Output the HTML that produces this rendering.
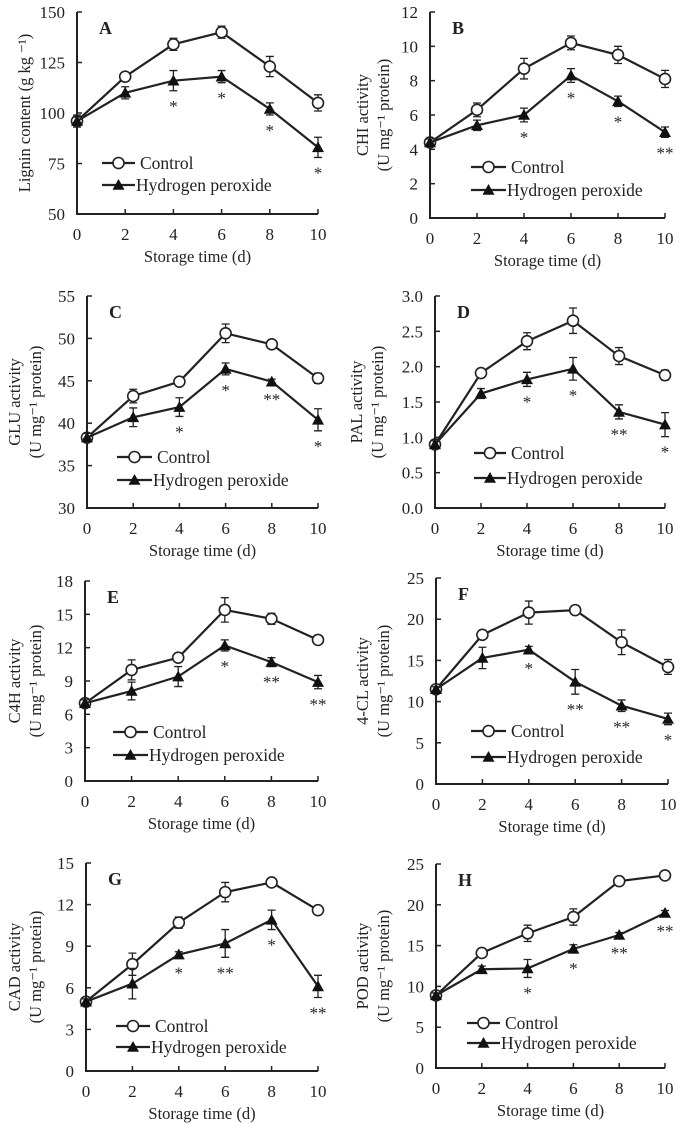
<!DOCTYPE html>
<html><head><meta charset="utf-8"><style>
html,body{margin:0;padding:0;background:#fff;}
svg{display:block;font-family:"Liberation Serif",serif;}
</style></head><body>
<svg id="fig" width="686" height="1123" viewBox="0 0 686 1123"></svg>
<script>
const days=[0,2,4,6,8,10];
const xTicks=[0,2,4,6,8,10];
// Panel A Lignin
const ctrlA=[96,118,134,140,123,105], ctrlErrA=[3,2,3,3,5,4];
const hpA=[96,110,116,118,102,83], hpErrA=[2,3,5,3,3,5];
const starsA=["","","*","*","*","*"];
const yTicksA=[50,75,100,125,150];
// Panel B CHI
const ctrlB=[4.4,6.3,8.7,10.2,9.5,8.1], ctrlErrB=[0.2,0.4,0.6,0.4,0.5,0.5];
const hpB=[4.4,5.4,6.0,8.3,6.8,5.0], hpErrB=[0.2,0.3,0.4,0.4,0.3,0.3];
const starsB=["","","*","*","*","**"];
const yTicksB=[0,2,4,6,8,10,12];
// Panel C GLU
const ctrlC=[38.3,43.2,44.9,50.6,49.3,45.3], ctrlErrC=[0.5,0.8,0.3,1.1,0.4,0.6];
const hpC=[38.3,40.7,41.9,46.4,44.9,40.4], hpErrC=[0.5,1.1,1.1,0.7,0.3,1.3];
const starsC=["","","*","*","**","*"];
const yTicksC=[30,35,40,45,50,55];
// Panel D PAL
const ctrlD=[0.9,1.91,2.36,2.65,2.15,1.88], ctrlErrD=[0.05,0.05,0.12,0.18,0.12,0.07];
const hpD=[0.9,1.62,1.82,1.97,1.36,1.18], hpErrD=[0.05,0.07,0.1,0.16,0.1,0.17];
const starsD=["","","*","*","**","*"];
const yTicksD=[0,0.5,1,1.5,2,2.5,3];
// Panel E C4H
const ctrlE=[7.0,10.0,11.1,15.4,14.6,12.7], ctrlErrE=[0.3,0.9,0.2,1.1,0.5,0.2];
const hpE=[7.0,8.1,9.4,12.2,10.7,8.9], hpErrE=[0.3,0.8,0.9,0.5,0.4,0.6];
const starsE=["","","","*","**","**"];
const yTicksE=[0,3,6,9,12,15,18];
// Panel F 4-CL
const ctrlF=[11.5,18.1,20.8,21.1,17.2,14.2], ctrlErrF=[0.3,0.3,1.4,0.3,1.5,0.9];
const hpF=[11.5,15.3,16.3,12.4,9.5,7.9], hpErrF=[0.3,1.3,0.4,1.5,0.7,0.7];
const starsF=["","","*","**","**","*"];
const yTicksF=[0,5,10,15,20,25];
// Panel G CAD
const ctrlG=[5,7.7,10.7,12.9,13.6,11.6], ctrlErrG=[0.2,0.8,0.4,0.7,0.2,0.2];
const hpG=[5,6.3,8.4,9.2,10.9,6.1], hpErrG=[0.2,1.1,0.2,1.0,0.7,0.8];
const starsG=["","","*","**","*","**"];
const yTicksG=[0,3,6,9,12,15];
// Panel H POD
const ctrlH=[8.9,14.1,16.5,18.5,22.9,23.6], ctrlErrH=[0.3,0.5,1.0,1.0,0.3,0.3];
const hpH=[8.9,12.1,12.2,14.6,16.3,19.0], hpErrH=[0.3,0.4,1.1,0.5,0.3,0.3];
const starsH=["","","*","*","**","**"];
const yTicksH=[0,5,10,15,20,25];

const NS="http://www.w3.org/2000/svg";
const svg=document.getElementById('fig');
function mk(tag,attrs,parent){const e=document.createElementNS(NS,tag);for(const k in attrs)e.setAttribute(k,attrs[k]);(parent||svg).appendChild(e);return e;}

const panels=[
 {id:'a',letter:'A',ctrl:ctrlA,ce:ctrlErrA,hp:hpA,he:hpErrA,st:starsA,yt:yTicksA,dec:0,x0:77,x1:318,yT:12,yB:214,title:['Lignin content  (g kg ⁻¹)'],tx:24,leg:[102,135,163,185]},
 {id:'b',letter:'B',ctrl:ctrlB,ce:ctrlErrB,hp:hpB,he:hpErrB,st:starsB,yt:yTicksB,dec:0,x0:430,x1:665,yT:12,yB:218,title:['CHI activity','(U mg⁻¹ protein)'],tx:362,leg:[471,506,167,190]},
 {id:'c',letter:'C',ctrl:ctrlC,ce:ctrlErrC,hp:hpC,he:hpErrC,st:starsC,yt:yTicksC,dec:0,x0:87,x1:318,yT:296,yB:508,title:['GLU activity','(U mg⁻¹ protein)'],tx:14,leg:[117,152,457,480]},
 {id:'d',letter:'D',ctrl:ctrlD,ce:ctrlErrD,hp:hpD,he:hpErrD,st:starsD,yt:yTicksD,dec:1,x0:435,x1:665,yT:296,yB:508,title:['PAL activity','(U mg⁻¹ protein)'],tx:356,leg:[474,506,453,478]},
 {id:'e',letter:'E',ctrl:ctrlE,ce:ctrlErrE,hp:hpE,he:hpErrE,st:starsE,yt:yTicksE,dec:0,x0:85,x1:318,yT:581,yB:781,title:['C4H activity','(U mg⁻¹ protein)'],tx:14,leg:[113,148,732,755]},
 {id:'f',letter:'F',ctrl:ctrlF,ce:ctrlErrF,hp:hpF,he:hpErrF,st:starsF,yt:yTicksF,dec:0,x0:436,x1:668,yT:578,yB:784,title:['4-CL activity','(U mg⁻¹ protein)'],tx:362,leg:[471,506,731,757]},
 {id:'g',letter:'G',ctrl:ctrlG,ce:ctrlErrG,hp:hpG,he:hpErrG,st:starsG,yt:yTicksG,dec:0,x0:86,x1:318,yT:863,yB:1071,title:['CAD activity','(U mg⁻¹ protein)'],tx:14,leg:[116,150,1026,1047]},
 {id:'h',letter:'H',ctrl:ctrlH,ce:ctrlErrH,hp:hpH,he:hpErrH,st:starsH,yt:yTicksH,dec:0,x0:436,x1:665,yT:864,yB:1068,title:['POD activity','(U mg⁻¹ protein)'],tx:362,leg:[467,500,1023,1043]}
];

function tri(g,x,y,s){return mk('polygon',{points:`${x},${y-s} ${x-s},${y+s*0.8} ${x+s},${y+s*0.8}`,fill:'#111'},g);}

panels.forEach(p=>{
 const g=mk('g',{});
 
 
 const ymin=p.yt[0], ymax=p.yt[p.yt.length-1];
 const X=v=>p.x0+(v-xTicks[0])/(xTicks[xTicks.length-1]-xTicks[0])*(p.x1-p.x0);
 const Y=v=>p.yB-(v-ymin)/(ymax-ymin)*(p.yB-p.yT);
 const ax=mk('path',{d:`M${p.x0},${p.yT} V${p.yB} H${p.x1}`,stroke:'#222','stroke-width':2,fill:'none'},g);
 
 
 p.yt.forEach(t=>{
  mk('line',{x1:p.x0,x2:p.x0+5,y1:Y(t),y2:Y(t),stroke:'#222','stroke-width':1.5},g);
  const tl=mk('text',{x:p.x0-12,y:Y(t)+6,'text-anchor':'end','font-size':17,fill:'#222'},g);
  tl.textContent=p.dec?t.toFixed(1):String(t);
  
  
 });
 xTicks.forEach(t=>{
  mk('line',{x1:X(t),x2:X(t),y1:p.yB,y2:p.yB-5,stroke:'#222','stroke-width':1.5},g);
  const tl=mk('text',{x:X(t),y:p.yB+26,'text-anchor':'middle','font-size':17,fill:'#222'},g);
  tl.textContent=String(t);
  
  
 });
 const xl=mk('text',{x:(p.x0+p.x1)/2,y:p.yB+48,'text-anchor':'middle','font-size':16.5,fill:'#222'},g);
 xl.textContent='Storage time (d)';
 
 
 const cy=(p.yT+p.yB)/2;
 p.title.forEach((line,i)=>{
  const tx=p.tx+i*21;
  const t=mk('text',{x:tx,y:cy,'text-anchor':'middle','font-size':16.5,fill:'#222',transform:`rotate(-90 ${tx} ${cy})`,dy:6},g);
  t.textContent=line;
  
  
 });
 const lt=mk('text',{x:p.x0+22,y:p.yT+22,'font-size':18,'font-weight':'bold',fill:'#222'},g);
 lt.textContent=p.letter;
 
 
 [[p.ctrl,p.ce,'control'],[p.hp,p.he,'hydrogen-peroxide']].forEach(([vals,errs,nm])=>{
  const pts=days.map((d,i)=>X(d)+','+Y(vals[i])).join(' ');
  const ln=mk('polyline',{points:pts,fill:'none',stroke:'#222','stroke-width':2.2},g);
  
  
  days.forEach((d,i)=>{
   const x=X(d),y1=Y(vals[i]+errs[i]),y2=Y(vals[i]-errs[i]);
   mk('path',{d:`M${x},${y1}V${y2}M${x-4},${y1}H${x+4}M${x-4},${y2}H${x+4}`,stroke:'#222','stroke-width':1.3,fill:'none'},g);
   let m;
   if(nm==='control') m=mk('circle',{cx:x,cy:Y(vals[i]),r:5.5,fill:'#fff',stroke:'#222','stroke-width':1.6},g);
   else m=tri(g,x,Y(vals[i]),6);
   
   
  });
 });
 days.forEach((d,i)=>{
  if(!p.st[i])return;
  const s=mk('text',{x:X(d),y:Y(p.hp[i]-p.he[i])+21,'text-anchor':'middle','font-size':17,fill:'#222'},g);
  s.textContent=p.st[i];
  
  
 });
 const [lx0,lx1,ly1,ly2]=p.leg, lm=(lx0+lx1)/2;
 const lg=mk('g',{},g);
 
 
 mk('line',{x1:lx0,x2:lx1,y1:ly1,y2:ly1,stroke:'#222','stroke-width':2.2},lg);
 mk('circle',{cx:lm,cy:ly1,r:5.5,fill:'#fff',stroke:'#222','stroke-width':1.6},lg);
 const t1=mk('text',{x:lx1+5,y:ly1+6,'font-size':17.5,fill:'#222'},lg);
 t1.textContent='Control';
 
 
 mk('line',{x1:lx0,x2:lx1,y1:ly2,y2:ly2,stroke:'#222','stroke-width':2.2},lg);
 tri(lg,lm,ly2,6);
 const t2=mk('text',{x:lx1+1,y:ly2+6,'font-size':17.5,fill:'#222'},lg);
 t2.textContent='Hydrogen peroxide';
 
 
});
</script>
</body></html>
